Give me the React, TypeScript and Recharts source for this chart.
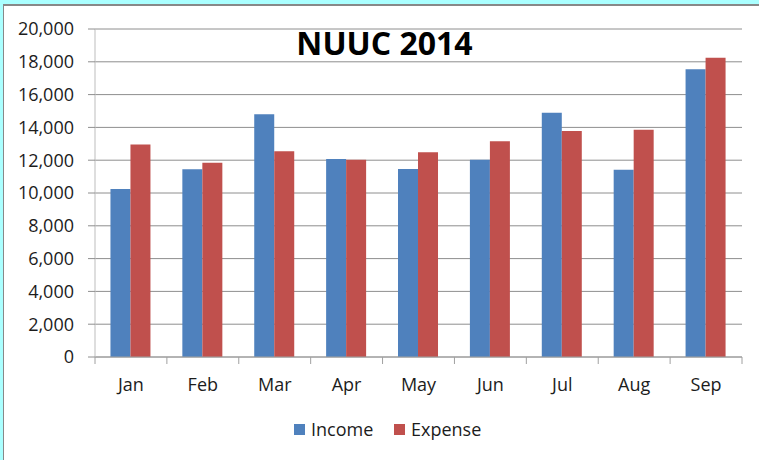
import { BarChart, Bar, XAxis, YAxis, CartesianGrid } from 'recharts'

const months = ['Jan', 'Feb', 'Mar', 'Apr', 'May', 'Jun', 'Jul', 'Aug', 'Sep']
const income = [10250, 11450, 14800, 12080, 11470, 12030, 14900, 11425, 17550]
const expense = [12950, 11850, 12550, 12020, 12490, 13160, 13775, 13850, 18250]
const yTicks = [0, 2000, 4000, 6000, 8000, 10000, 12000, 14000, 16000, 18000, 20000]

const series = [
  { key: 'income', name: 'Income', color: '#4F81BD' },
  { key: 'expense', name: 'Expense', color: '#C0504D' },
]

const data = months.map((m, i) => ({ month: m, income: income[i], expense: expense[i] }))

const W = 759
const H = 460
const MARGIN = { top: 29, right: 17, bottom: 70, left: 0 }
const Y_WIDTH = 95
const BAND = (W - MARGIN.left - MARGIN.right - Y_WIDTH) / months.length
const FONT = '"Open Sans", "Liberation Sans", sans-serif'
const TEXT = '#1c1c1c'

// category labels centred, tick marks on the category boundaries
function MonthTick(props: any) {
  const { x, y, payload, index } = props
  const left = x - BAND / 2
  return (
    <g>
      <line x1={left} y1={y} x2={left} y2={y + 7} stroke="#a0a0a0" />
      {index === months.length - 1 && (
        <line x1={left + BAND} y1={y} x2={left + BAND} y2={y + 7} stroke="#a0a0a0" />
      )}
      <text x={x} y={y + 34} textAnchor="middle" fill={TEXT} fontSize={18} fontFamily={FONT}>
        {payload.value}
      </text>
    </g>
  )
}

export default function App() {
  return (
    <div style={{ position: 'absolute', left: 0, top: 0, width: W, height: H, background: '#aaffff', overflow: 'hidden' }}>
      <div
        style={{
          position: 'absolute', left: 3, top: 4, width: W, height: H,
          background: '#fff', borderLeft: '1px solid #888', borderTop: '2px solid #888',
        }}
      />

      <div
        style={{
          position: 'absolute', left: 0, width: 769, top: 27, textAlign: 'center',
          fontFamily: FONT, fontWeight: 700, fontSize: 32, lineHeight: '32px', color: '#000',
        }}
      >
        NUUC 2014
      </div>

      <div style={{ position: 'absolute', left: 0, top: 0 }}>
        <BarChart width={W} height={H} data={data} margin={MARGIN} barGap={0} barCategoryGap="21.5%">
          <CartesianGrid vertical={false} stroke="#8e8e8e" />
          <XAxis
            dataKey="month"
            height={33}
            stroke="#a0a0a0"
            tickLine={false}
            tickSize={0}
            tickMargin={0}
            interval={0}
            tick={<MonthTick />}
          />
          <YAxis
            width={Y_WIDTH}
            domain={[0, 20000]}
            ticks={yTicks}
            interval={0}
            stroke="#bdbdbd"
            tickLine={{ stroke: '#8e8e8e' }}
            tickSize={7}
            tickMargin={14}
            tick={{ fill: TEXT, fontSize: 18, fontFamily: FONT }}
            tickFormatter={(v: number) => v.toLocaleString('en-US')}
          />
          {series.map((s) => (
            <Bar key={s.key} dataKey={s.key} name={s.name} fill={s.color} isAnimationActive={false} />
          ))}
        </BarChart>
      </div>

      {/* legend */}
      {series.map((s, i) => (
        <div
          key={s.key}
          style={{
            position: 'absolute', left: 294 + i * 100, top: 420, height: 18,
            display: 'flex', alignItems: 'center', fontFamily: FONT, fontSize: 18, lineHeight: '18px', color: TEXT,
          }}
        >
          <span style={{ display: 'inline-block', width: 11, height: 11, background: s.color, marginRight: 6, marginTop: 1 }} />
          {s.name}
        </div>
      ))}
    </div>
  )
}
